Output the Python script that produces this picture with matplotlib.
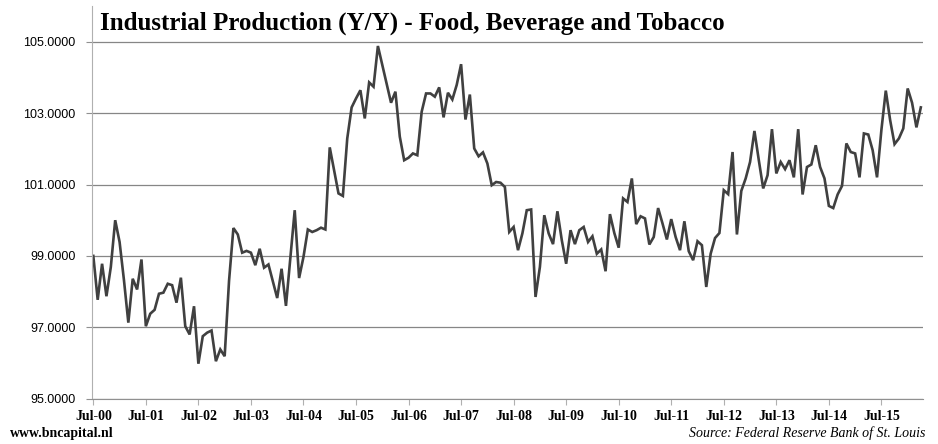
import matplotlib
matplotlib.use("Agg")
import matplotlib.pyplot as plt

# Industrial Production (Y/Y) - Food, Beverage and Tobacco, monthly from Jul-2000
valores = [
    99.00, 97.77, 98.78, 97.87, 98.69, 100.00, 99.39, 98.32, 97.13, 98.36, 98.06, 98.90,
    97.03, 97.38, 97.49, 97.94, 97.97, 98.22, 98.18, 97.69, 98.39, 97.03, 96.80, 97.59,
    95.98, 96.75, 96.85, 96.91, 96.05, 96.38, 96.19, 98.30, 99.78, 99.60, 99.09, 99.14,
    99.09, 98.74, 99.20, 98.67, 98.76, 98.29, 97.82, 98.64, 97.60, 98.95, 100.28, 98.38,
    98.97, 99.74, 99.67, 99.72, 99.79, 99.74, 102.04, 101.40, 100.75, 100.68, 102.29, 103.16,
    103.41, 103.64, 102.85, 103.86, 103.74, 104.88, 104.35, 103.83, 103.29, 103.60, 102.34, 101.68,
    101.75, 101.87, 101.82, 103.04, 103.55, 103.55, 103.46, 103.72, 102.88, 103.57, 103.38, 103.79,
    104.37, 102.82, 103.52, 102.01, 101.79, 101.90, 101.59, 100.98, 101.07, 101.05, 100.93, 99.67,
    99.81, 99.16, 99.63, 100.28, 100.30, 97.85, 98.69, 100.14, 99.63, 99.33, 100.25, 99.44,
    98.78, 99.72, 99.33, 99.72, 99.81, 99.39, 99.55, 99.06, 99.18, 98.57, 100.17, 99.64,
    99.23, 100.61, 100.51, 101.17, 99.89, 100.11, 100.05, 99.32, 99.53, 100.34, 99.91, 99.46,
    100.03, 99.53, 99.16, 99.97, 99.13, 98.88, 99.41, 99.30, 98.13, 99.06, 99.50, 99.64,
    100.84, 100.73, 101.91, 99.60, 100.82, 101.17, 101.63, 102.50, 101.68, 100.89, 101.26, 102.55,
    101.31, 101.63, 101.43, 101.68, 101.20, 102.55, 100.72, 101.49, 101.56, 102.10, 101.49, 101.17,
    100.40, 100.34, 100.72, 100.96, 102.15, 101.91, 101.87, 101.20, 102.43, 102.40, 101.96, 101.20,
    102.53, 103.63, 102.80, 102.13, 102.29, 102.57, 103.69, 103.29, 102.60, 103.16,
]
rotulos_x = ['Jul-%02d' % a for a in range(0, 16)]
posicoes_x = [12 * i for i in range(len(rotulos_x))]
ticks_y = [95, 97, 99, 101, 103, 105]

fig = plt.figure(figsize=(9.38, 4.44), dpi=100)
ax = fig.add_axes([92 / 938, 1 - 398.7 / 444, (923 - 92) / 938, (398.7 - 6) / 444])

ax.plot(range(len(valores)), valores, color='#404040', lw=1.9, solid_joinstyle='miter')

ax.set_ylim(95, 106)
ax.set_xlim(-0.3, 189.5)
ax.set_yticks(ticks_y)
ax.set_yticklabels(['%.4f' % v for v in ticks_y], fontsize=9, family='Liberation Sans')
ax.set_xticks(posicoes_x)
ax.set_xticklabels(rotulos_x, fontsize=10, family='Liberation Serif', fontweight='bold')
ax.yaxis.grid(True, color='#868686', lw=0.9)
ax.set_axisbelow(True)
for lado in ['top', 'right']:
    ax.spines[lado].set_visible(False)
ax.spines['left'].set_color('#b0b0b0')
ax.spines['bottom'].set_color('#909090')
ax.tick_params(axis='y', length=4, color='#909090', pad=8)
ax.tick_params(axis='x', length=4, color='#b0b0b0', pad=4)

fig.text(100 / 938, 1 - 30 / 444, 'Industrial Production (Y/Y) - Food, Beverage and Tobacco',
         fontsize=18, family='Liberation Serif', fontweight='bold', ha='left', va='baseline')
fig.text(10 / 938, 1 - 437 / 444, 'www.bncapital.nl', fontsize=10, family='Liberation Serif',
         fontweight='bold', ha='left', va='baseline')
fig.text(925 / 938, 1 - 437 / 444, 'Source: Federal Reserve Bank of St. Louis', fontsize=10,
         family='Liberation Serif', style='italic', ha='right', va='baseline')

fig.savefig('out.png', dpi=100)
